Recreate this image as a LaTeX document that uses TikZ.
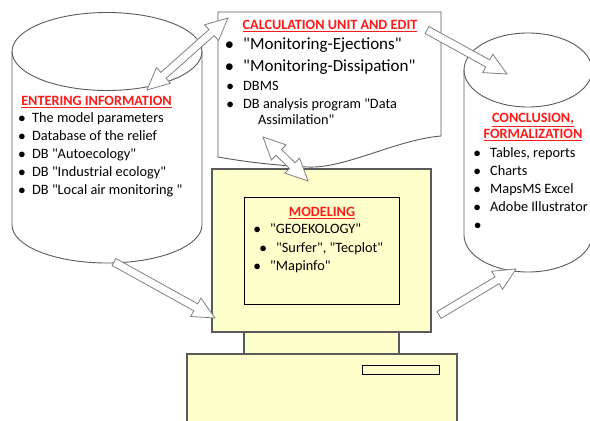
\documentclass[tikz,border=0pt]{standalone}
\usepackage{fontspec}
\setmainfont{Carlito}[Ligatures=TeXOff]
\usetikzlibrary{calc}

\definecolor{boxyellow}{HTML}{FFFFCC}
\definecolor{linegray}{HTML}{5A5A5A}
\definecolor{arrowgray}{HTML}{808080}
\definecolor{titlered}{HTML}{FF1A1A}

\tikzset{
  outline/.style={draw=linegray, line width=0.9pt},
  hw/.style={draw=linegray, fill=boxyellow, line width=1.3pt},
  inner/.style={draw=black, fill=boxyellow, line width=0.9pt},
  barrow/.style={draw=arrowgray, fill=white, line width=0.8pt, line join=miter},
  title/.style={font=\fontsize{14.2}{17}\selectfont\bfseries, text=titlered, inner sep=0pt, anchor=base},
  item/.style={font=\fontsize{14.3}{18}\selectfont, inner sep=0pt, anchor=base west},
  bigitem/.style={item, font=\fontsize{17}{20}\selectfont},
}

% bullet hung to the left of the text
\newcommand{\bul}[1]{\llap{$\bullet$\hspace{#1}}}
\newcommand{\redtitle}[1]{\underline{#1}}

% block arrows: shaft 4pt, head 10.5pt, head length 22pt
\newcommand{\blockarrow}[2]{%
  \coordinate (hb) at ($(#2)!22pt!(#1)$);
  \draw[barrow] ($(#1)!4pt!90:(#2)$) -- ($(hb)!4pt!-90:(#1)$)
    -- ($(hb)!10.5pt!-90:(#1)$) -- (#2) -- ($(hb)!10.5pt!90:(#1)$)
    -- ($(hb)!4pt!90:(#1)$) -- ($(#1)!4pt!-90:(#2)$) -- cycle;}
\newcommand{\doublearrow}[2]{%
  \coordinate (ha) at ($(#1)!22pt!(#2)$);
  \coordinate (hb) at ($(#2)!22pt!(#1)$);
  \draw[barrow] (#1) -- ($(ha)!10.5pt!90:(#2)$) -- ($(ha)!4pt!90:(#2)$)
    -- ($(hb)!4pt!-90:(#1)$) -- ($(hb)!10.5pt!-90:(#1)$) -- (#2)
    -- ($(hb)!10.5pt!90:(#1)$) -- ($(hb)!4pt!90:(#1)$)
    -- ($(ha)!4pt!-90:(#2)$) -- ($(ha)!10.5pt!-90:(#2)$) -- cycle;}

\begin{document}
\begin{tikzpicture}[x=1pt, y=1pt]
  \useasboundingbox (0,0) rectangle (590,421);

  % input database (left cylinder)
  \path[fill=white] (12,369.5) -- (12,196) arc[start angle=180, end angle=360, x radius=95, y radius=38]
    -- (202,369.5) arc[start angle=0, end angle=180, x radius=95, y radius=39];
  \draw[outline] (12,369.5) -- (12,196) arc[start angle=180, end angle=360, x radius=95, y radius=38]
    -- (202,369.5);
  \draw[outline] (107,369.5) ellipse[x radius=95, y radius=39];

  % output database (right cylinder)
  \path[fill=white] (464,351) -- (464,186) arc[start angle=180, end angle=360, x radius=64, y radius=37]
    -- (592,351) arc[start angle=0, end angle=180, x radius=64, y radius=37];
  \draw[outline] (464,351) -- (464,186) arc[start angle=180, end angle=360, x radius=64, y radius=37]
    -- (592,351);
  \draw[outline] (528,351) ellipse[x radius=64, y radius=37];

  % calculation sheet
  \draw[outline, fill=white] (218,409) -- (441,409) -- (441,285)
    .. controls (395,281) and (345,252) .. (307,254)
    .. controls (270,256) and (240,260) .. (218,264) -- cycle;

  % computer
  \draw[hw] (187,-5) rectangle (457,67);
  \draw[inner] (362,47) rectangle (439,56);
  \draw[hw] (244,67) rectangle (399,89);
  \draw[hw] (212,89) rectangle (431,252);
  \draw[inner] (244,117) rectangle (399,224);

  % arrow ends
  \coordinate (inTop) at (147,331);
  \coordinate (calcLeft) at (228,403);
  \coordinate (calcRight) at (427,391);
  \coordinate (outTop) at (507,347);
  \coordinate (calcBottom) at (263,284);
  \coordinate (pcTop) at (308,240);
  \coordinate (inBottom) at (114,159);
  \coordinate (pcLeft) at (215,103);
  \coordinate (pcRight) at (439,106);
  \coordinate (outBottom) at (516,152);

  \doublearrow{inTop}{calcLeft}
  \blockarrow{calcRight}{outTop}
  \doublearrow{calcBottom}{pcTop}
  \blockarrow{inBottom}{pcLeft}
  \blockarrow{pcRight}{outBottom}

  % texts
  \node[title] (enterTitle) at (96.5,315) {\redtitle{ENTERING INFORMATION}};
  \foreach \txt [count=\i] in {The model parameters, Database of the relief,
      DB "Autoecology", DB "Industrial ecology", DB "Local air monitoring "}
    \node[item] (enter\i) at (32,316-18*\i) {\bul{6.5pt}\txt};

  \node[title] (calcTitle) at (330,391) {\redtitle{CALCULATION UNIT AND EDIT}};
  \node[bigitem] (calc1) at (243,371) {\bul{9.5pt}"Monitoring-Ejections"};
  \node[bigitem] (calc2) at (243,349) {\bul{9.5pt}"Monitoring-Dissipation"};
  \node[item] (calc3) at (243,330) {\bul{9.5pt}DBMS};
  \node[item] (calc4) at (243,312) {\bul{9.5pt}DB analysis program "Data};
  \node[item] (calc5) at (258,296) {Assimilation"};

  \node[title] (outTitleA) at (533,298) {\redtitle{CONCLUSION,}};
  \node[title] (outTitleB) at (533,282) {\redtitle{FORMALIZATION}};
  \foreach \txt [count=\i] in {{Tables, reports}, Charts, MapsMS Excel, Adobe Illustrator, {}}
    \node[item] (out\i) at (490,281-18*\i) {\bul{9.5pt}\txt};

  \node[title] (modTitle) at (322,204) {\redtitle{MODELING}};
  \node[item] (mod1) at (270,187) {\bul{9.5pt}"GEOEKOLOGY"};
  \node[item] (mod2) at (276,168) {\bul{9.5pt}"Surfer", "Tecplot"};
  \node[item] (mod3) at (270,150) {\bul{9.5pt}"Mapinfo"};
\end{tikzpicture}
\end{document}
